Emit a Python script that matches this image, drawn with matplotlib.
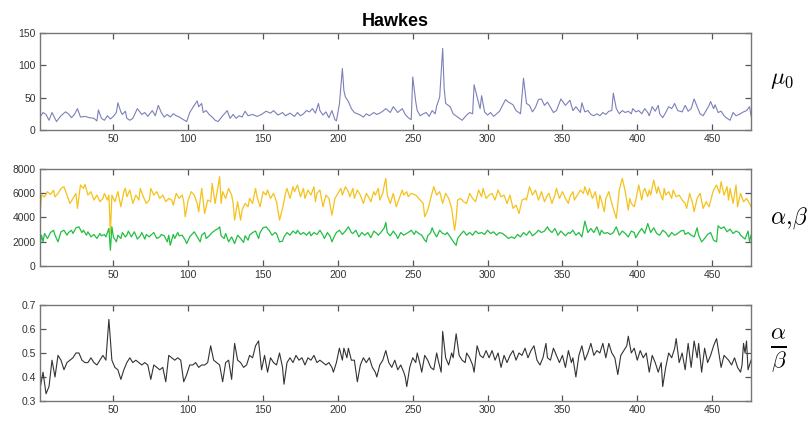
import numpy as np
import matplotlib
matplotlib.use("Agg")
import matplotlib.pyplot as plt

# mu_0 estimates (x position, value)
mu_x = [1, 3, 5, 7, 9, 12, 15, 18, 20, 22, 24, 26, 28, 31, 34, 37, 39, 40, 42, 44, 46, 48, 50, 52, 53, 55, 56, 58, 59,
        61, 63, 66, 69, 71, 73, 75, 76, 78, 80, 82, 84, 86, 88, 90, 92, 94, 96, 99, 101, 104, 106, 107, 109, 110, 112,
        114, 116, 118, 120, 121, 123, 125, 126, 128, 130, 132, 134, 136, 138, 140, 143, 146, 149, 152, 155, 157, 160,
        163, 165, 168, 171, 173, 175, 177, 179, 181, 183, 185, 187, 188, 190, 192, 194, 196, 198, 199, 201, 203, 204,
        205, 207, 209, 211, 213, 215, 217, 219, 221, 224, 226, 228, 230, 232, 235, 237, 240, 243, 245, 247, 249, 250,
        252, 253, 255, 257, 259, 261, 263, 265, 266, 268, 270, 271, 272, 275, 277, 280, 283, 286, 288, 290, 291, 293,
        295, 296, 298, 300, 302, 304, 306, 308, 310, 312, 314, 317, 319, 322, 324, 326, 328, 330, 332, 334, 336, 338,
        340, 342, 344, 346, 348, 349, 352, 355, 357, 359, 362, 363, 365, 367, 369, 371, 373, 375, 377, 379, 381, 383,
        384, 386, 388, 390, 392, 394, 396, 397, 399, 401, 403, 405, 407, 408, 410, 412, 414, 415, 417, 419, 421, 423,
        425, 427, 430, 432, 434, 436, 438, 440, 442, 444, 446, 448, 449, 451, 452, 454, 456, 458, 460, 462, 464, 466,
        468, 471, 473, 475, 476]
mu_y = [20, 27, 24, 15, 27, 13, 22, 28, 25, 19, 24, 33, 20, 21, 19, 18, 14, 31, 18, 15, 22, 17, 21, 27, 42, 28, 24, 29, 18,
        15, 18, 33, 24, 27, 21, 27, 30, 22, 38, 27, 20, 24, 20, 25, 22, 20, 17, 13, 27, 38, 45, 36, 41, 27, 30,
        24, 20, 15, 13, 16, 22, 27, 30, 18, 24, 18, 22, 20, 29, 22, 24, 21, 24, 29, 26, 30, 23,
        27, 22, 26, 21, 27, 22, 25, 30, 28, 33, 26, 41, 30, 23, 28, 19, 30, 16, 14, 40, 95, 61,
        51, 44, 33, 27, 25, 23, 20, 25, 22, 27, 24, 26, 29, 33, 27, 36, 27, 33, 24, 19, 16, 82,
        44, 30, 22, 25, 27, 21, 30, 25, 37, 51, 126, 64, 41, 36, 25, 20, 15, 23, 27, 25, 70, 51,
        33, 53, 28, 23, 27, 21, 25, 29, 38, 47, 43, 39, 30, 25, 80, 41, 38, 28, 35, 47, 48, 38,
        43, 35, 27, 30, 42, 48, 38, 46, 30, 36, 27, 42, 28, 30, 24, 22, 25, 22, 27, 24, 29, 30,
        57, 33, 25, 30, 27, 29, 25, 33, 28, 30, 25, 33, 27, 22, 36, 29, 38, 25, 19, 27, 36, 33,
        41, 30, 28, 38, 29, 33, 48, 36, 25, 22, 30, 38, 44, 33, 39, 27, 29, 22, 18, 15, 27, 22,
        24, 28, 30, 36, 22]

# alpha (yellow)
al_x = [1, 2, 4, 6, 8, 10, 11, 13, 15, 17, 19, 21, 23, 25, 26, 28, 30, 31, 33, 35, 37, 39, 41, 43, 44, 46, 47, 48, 49,
        51, 53, 55, 57, 58, 59, 61, 63, 65, 67, 68, 70, 72, 74, 75, 77, 79, 81, 83, 85, 87, 89, 90, 92, 94, 96, 97, 98,
        100, 102, 104, 106, 107, 109, 111, 113, 115, 116, 118, 121, 122, 123, 125, 127, 129, 130, 131, 133, 135, 136,
        138, 140, 141, 143, 145, 146, 148, 150, 152, 153, 155, 157, 159, 161, 163, 165, 166, 168, 170, 171, 173, 175,
        177, 178, 180, 182, 184, 185, 186, 188, 190, 192, 194, 196, 198, 200, 202, 203, 205, 207, 208, 210, 211, 213,
        215, 217, 219, 221, 222, 224, 225, 227, 228, 230, 231, 232, 233, 235, 237, 238, 239, 241, 243, 244, 246, 247,
        249, 252, 254, 257, 258, 260, 262, 264, 266, 268, 270, 271, 272, 274, 276, 278, 279, 280, 282, 284, 286, 288,
        290, 292, 294, 296, 297, 299, 301, 303, 305, 307, 309, 311, 313, 315, 317, 319, 321, 323, 325, 326, 328, 330,
        332, 334, 336, 338, 340, 341, 343, 345, 346, 348, 350, 352, 354, 355, 357, 358, 360, 362, 364, 365, 367, 368,
        370, 372, 374, 375, 376, 378, 379, 381, 383, 385, 386, 388, 390, 392, 394, 395, 396, 398, 399, 401, 403, 404,
        405, 407, 408, 409, 411, 413, 414, 415, 417, 418, 419, 421, 423, 424, 426, 428, 430, 432, 433, 435, 437, 438,
        440, 442, 444, 446, 448, 450, 451, 453, 455, 456, 458, 460, 461, 462, 464, 466, 467, 469, 471, 473, 475, 476]
al_y = [4300, 5850, 5700, 6130, 5900, 6250, 5700, 5990, 6400, 6540, 5850, 5160, 5575, 5990, 4750, 6680, 6400, 6730, 5850,
        6130, 5440, 5850, 5300, 5575, 5990, 5440, 5850, 2700, 5850,
        5300, 6130, 4890, 6130, 6400, 5710, 6265, 5160, 5850, 5440, 6400, 5710, 5160, 5440, 6400, 5850, 6130, 5575, 5850,
        5300, 5575, 5440, 5020, 5990, 5575, 5850, 5300, 4060,
        5440, 6130, 5850, 5160, 4470, 6400, 4330, 5440, 5300, 6820, 5160, 7370, 5160, 6130, 5575, 6400, 5850, 5160, 3780,
        5300, 3780, 4610,
        5160, 4885, 5575, 5160, 6400, 5710, 4885, 6130, 5850, 6265, 5575, 5990, 5300, 3780, 4750, 5990, 6400, 5575, 6540,
        6130, 6680, 5710,
        6400, 5575, 6265, 5850, 6540, 5300, 5990, 6265, 4885, 5850, 5575, 4195, 5575, 5990, 6400, 5850, 6540, 6130, 5710,
        6400, 5575, 6265,
        5850, 5160, 5990, 5575, 5300, 6130, 5850, 6400, 5440, 5990, 6680, 7230, 5850, 5160, 5990, 5440, 4885, 5575, 6265,
        5850, 6130, 5710,
        5990, 5850, 5575, 5160, 4060, 4610, 5575, 6540, 5850, 6130, 5160, 5575, 5990, 5575, 4750, 2950, 3920, 5440, 5575,
        5300, 5160, 5990,
        5575, 5300, 6265, 5710, 6400, 5575, 5850, 5990, 5440, 6265, 5710, 5850, 5160, 5850, 4750, 5020, 4330, 5440, 5575,
        5440, 6540, 5850,
        6265, 5440, 6130, 5300, 5850, 6000, 5160, 5850, 6400, 5575, 6130, 5575, 5160, 5710, 6130, 5440, 5850, 6265, 5990,
        6540, 5850, 6400,
        5575, 6130, 4750, 5850, 5440, 4470, 5575, 6130, 5160, 4330, 3920, 6265, 7230, 6130, 4610, 5575, 5160, 4885, 5440,
        6680, 5440, 6130,
        6400, 5710, 6265, 5850, 7090, 5990, 6540, 6130, 5440, 6400, 5850, 6130, 5575, 6265, 5710, 5850, 5440, 5160, 4750,
        5990, 5160, 4470,
        5575, 5990, 4750, 5300, 4885, 5850, 6265, 6680, 5990, 6955, 5850, 6540, 5440, 6400, 5160, 6680, 4885, 5990, 5300,
        5575, 5160, 4885]

# beta (green)
be_x = [1, 2, 3, 4, 6, 8, 10, 11, 13, 15, 17, 19, 20, 22, 23, 25, 27, 29, 30, 32, 33, 35, 37, 39, 41, 42, 44, 45, 46,
        47, 48, 49, 50, 52, 53, 55, 56, 58, 59, 60, 62, 64, 65, 66, 68, 69, 71, 72, 74, 75, 77, 79, 81, 82, 84, 86, 87,
        88, 90, 91, 93, 94, 96, 98, 99, 101, 103, 104, 106, 108, 109, 111, 112, 114, 116, 118, 120, 121, 122, 124, 125,
        127, 129, 131, 133, 135, 137, 138, 140, 141, 143, 145, 147, 148, 150, 152, 154, 156, 158, 159, 161, 163, 164,
        166, 168, 170, 172, 173, 175, 177, 179, 181, 182, 184, 186, 188, 190, 191, 193, 195, 196, 198, 199, 201, 203,
        205, 207, 209, 210, 212, 214, 216, 218, 220, 222, 224, 226, 227, 229, 231, 232, 233, 235, 237, 239, 240, 242,
        244, 246, 247, 249, 251, 252, 254, 256, 258, 259, 260, 262, 263, 264, 266, 268, 270, 272, 273, 275, 278, 279,
        280, 282, 284, 286, 288, 290, 292, 294, 296, 298, 300, 302, 304, 306, 308, 310, 312, 314, 316, 318, 320, 322,
        324, 326, 328, 330, 332, 334, 336, 338, 340, 341, 343, 345, 347, 349, 352, 354, 355, 357, 359, 361, 363, 365,
        367, 369, 371, 373, 375, 376, 378, 380, 382, 384, 386, 388, 390, 392, 394, 396, 398, 399, 401, 403, 405, 407,
        409, 411, 413, 415, 417, 419, 421, 423, 425, 427, 429, 431, 432, 434, 436, 438, 440, 441, 443, 445, 447, 449,
        451, 453, 454, 456, 458, 460, 462, 464, 466, 468, 469, 471, 472, 474, 475, 476]
be_y = [1710, 2540, 1990, 2680, 2270, 2760, 2950, 2540, 1990, 2820, 2950, 2540, 2760, 2950, 2680, 3150, 3230, 2760, 2950,
        2540, 2820, 2400, 2600, 2270, 2680, 2490, 2600, 2400, 2760,
        3090, 1300, 3230, 2400, 1990, 2540, 2270, 2760, 2400, 2540, 2880, 2400, 2820, 2540, 2220, 2490, 2760, 2220, 2600,
        2400, 2540, 2760, 2270, 2400, 2600, 2490, 1990, 2540,
        1710, 2600, 2270, 2760, 2490, 2540, 2130, 1850, 2400, 2680, 2820, 2400, 1990, 2540, 2760, 2270, 2490, 2760, 2950,
        3090, 3230, 2490, 2270, 2680,
        1990, 2400, 1850, 2540, 2270, 1940, 2490, 2130, 2540, 2760, 2880, 2270, 2760, 3150, 3230, 2950, 2540, 2760, 2680,
        1990, 2050, 2400,
        2760, 2540, 2880, 2680, 2950, 2600, 2760, 2540, 2820, 2490, 2760, 2600, 2950, 2540, 2270, 2760, 2400, 1990, 2540,
        2760, 2950, 2600,
        2880, 3230, 2760, 2680, 2950, 2400, 2760, 2540, 2760, 2330, 2880, 2680, 2540, 2820, 3150, 3590, 2760, 2490, 2880,
        2540, 2270, 2760,
        2540, 2680, 2760, 2950, 2600, 2880, 2680, 2540, 2130, 1990, 2490, 2760, 3150, 2820, 2400, 2950, 2680, 2600, 2760,
        2400, 1850, 1710,
        2270, 2600, 2880, 2540, 2760, 2540, 2880, 2680, 2760, 2600, 2950, 2680, 2820, 2540, 2760, 2680, 2490, 2270, 2400,
        2270, 2600, 2400,
        2760, 2540, 2880, 2490, 2680, 2950, 2760, 2880, 3230, 3000, 2760, 3090, 2540, 2880, 2490, 2760, 2680, 2950, 2540,
        2760, 2400, 3700,
        2760, 3090, 2760, 3230, 2540, 2950, 2680, 2760, 2600, 2760, 3230, 2540, 2880, 2680, 2400, 2880, 2760, 2330, 2760,
        3090, 2680, 3500,
        2760, 3150, 2680, 2540, 2950, 2760, 2400, 2760, 2540, 2680, 2880, 2950, 2600, 2760, 2540, 2400, 3150, 2540, 1990,
        2270, 2600, 2760,
        2130, 1990, 3310, 3090, 3230, 2820, 3040, 2680, 2880, 2760, 2540, 2330, 2220, 2880, 1990, 2540]

# alpha / beta ratio
ab_x = list(range(1, 160, 2)) + [
    161, 163, 164, 166, 168, 170, 172, 174, 176, 178, 180, 182, 184, 186, 188, 190, 192, 194, 196, 197, 199, 201, 203,
    204, 206, 207, 209, 211, 213, 215, 217, 219, 221, 223, 225, 226, 228, 230, 232, 234, 236, 238, 240, 242, 244, 245,
    246, 248, 250, 252, 253, 255, 256, 258, 260, 262, 264, 266, 267, 269, 270, 272, 274, 276, 277, 279, 281, 283, 285,
    286, 288, 290, 291, 293, 295, 297, 299, 301, 303, 305, 307, 309, 311, 313, 315, 317, 319, 321, 323, 325, 327, 329,
    331, 333, 335, 337, 339, 340, 342, 344, 346, 348, 350, 352, 354, 356, 357, 359, 361, 363, 365, 367, 369, 371, 373,
    375, 377, 379, 381, 383, 385, 387, 389, 391, 393, 394, 396, 398, 400, 402, 404, 406, 408, 410, 412, 414, 416, 417,
    419, 421, 423, 425, 426, 428, 430, 432, 434, 436, 438, 440, 441, 443, 445, 447, 449, 451, 453, 455, 456, 458, 461,
    463, 465, 467, 469, 470, 471, 472, 473, 474, 476]
ab_y = [0.35, 0.42, 0.33, 0.36, 0.47, 0.40, 0.49, 0.47, 0.43, 0.46, 0.47, 0.48, 0.50, 0.50, 0.47, 0.46, 0.46, 0.48,
        0.46, 0.45, 0.47, 0.49, 0.47, 0.64, 0.47, 0.44, 0.43, 0.39, 0.43, 0.46, 0.48, 0.46, 0.47, 0.46, 0.45, 0.46,
        0.45, 0.39, 0.45, 0.44, 0.43, 0.44, 0.38, 0.49, 0.48, 0.47, 0.48, 0.47, 0.38, 0.41, 0.45, 0.45, 0.46, 0.44,
        0.45, 0.45, 0.46, 0.53, 0.47, 0.46, 0.45, 0.38, 0.46, 0.47, 0.39, 0.54, 0.47, 0.46, 0.44, 0.45, 0.49, 0.48,
        0.53, 0.55, 0.43, 0.49, 0.42, 0.48, 0.46, 0.45,
        0.50, 0.44, 0.37, 0.46, 0.48, 0.46, 0.49, 0.47, 0.48, 0.45, 0.48, 0.47, 0.49, 0.46, 0.47, 0.46, 0.45, 0.46,
        0.44, 0.42, 0.46, 0.52, 0.47, 0.52, 0.48, 0.52, 0.47, 0.47, 0.38, 0.45, 0.48, 0.46, 0.48, 0.44, 0.42, 0.40,
        0.45, 0.47, 0.51, 0.46, 0.44, 0.47, 0.43, 0.45, 0.42, 0.40, 0.36, 0.44, 0.48, 0.46, 0.50, 0.45, 0.42, 0.49,
        0.47, 0.44, 0.43, 0.50, 0.47, 0.42, 0.59, 0.48, 0.45, 0.50, 0.48, 0.58, 0.49, 0.47, 0.46, 0.50, 0.48, 0.45,
        0.42, 0.53, 0.49, 0.48, 0.51, 0.48, 0.51, 0.47, 0.50, 0.44, 0.49, 0.46, 0.49, 0.51, 0.47, 0.50, 0.49, 0.52,
        0.48, 0.51, 0.53, 0.47, 0.45, 0.48, 0.54, 0.48, 0.47, 0.52, 0.49, 0.46, 0.49, 0.44, 0.51, 0.46, 0.48, 0.40,
        0.49, 0.53, 0.47, 0.50, 0.54, 0.49, 0.51, 0.50, 0.54, 0.48, 0.54, 0.50, 0.48, 0.41, 0.49, 0.51, 0.53, 0.57,
        0.50, 0.52, 0.47, 0.51, 0.48, 0.50, 0.42, 0.49, 0.46, 0.42, 0.46, 0.36, 0.44, 0.50, 0.48, 0.52, 0.56, 0.46,
        0.50, 0.43, 0.54, 0.44, 0.55, 0.48, 0.54, 0.42, 0.52, 0.46, 0.49, 0.53, 0.56, 0.48, 0.44, 0.49, 0.47, 0.45,
        0.48, 0.44, 0.42, 0.45, 0.54, 0.50, 0.55, 0.43, 0.47]

x_ticks = [50, 100, 150, 200, 250, 300, 350, 400, 450]

plt.rcParams['font.family'] = ['Liberation Sans', 'DejaVu Sans']
plt.rcParams['mathtext.fontset'] = 'cm'

fig = plt.figure(figsize=(8.12, 4.22), dpi=100)
W = 0.8756
ax1 = fig.add_axes([0.0493, 0.692, W, 0.2299])
ax2 = fig.add_axes([0.0493, 0.3697, W, 0.2298])
ax3 = fig.add_axes([0.0493, 0.0498, W, 0.2275])


def style(ax, yt, ylim):
    ax.set_xlim(1, 476)
    ax.set_ylim(*ylim)
    ax.set_xticks(x_ticks)
    ax.set_yticks(yt)
    ax.tick_params(direction='in', top=True, right=True, length=4, width=0.9,
                   labelsize=7.5, colors='#555555', labelcolor='#333333', pad=3)
    for s in ax.spines.values():
        s.set_color('#777777')
        s.set_linewidth(1.0)


ax1.plot(mu_x, mu_y, color='#7c80b8', lw=0.8)
style(ax1, [0, 50, 100, 150], (0, 150))
ax1.set_title('Hawkes', fontsize=13, fontweight='bold', pad=5)
fig.text(0.948, 0.81, r'$\mu_0$', fontsize=17, va='center')

ax2.plot(al_x, al_y, color='#f5c21b', lw=0.9)
ax2.plot(be_x, be_y, color='#22bf44', lw=0.9)
style(ax2, [0, 2000, 4000, 6000, 8000], (0, 8000))
fig.text(0.948, 0.483, r'$\alpha,\!\beta$', fontsize=17, va='center')

ax3.plot(ab_x, ab_y, color='#333333', lw=0.8)
style(ax3, [0.3, 0.4, 0.5, 0.6, 0.7], (0.3, 0.7))
ax3.set_yticklabels(['0.3', '0.4', '0.5', '0.6', '0.7'])
fig.text(0.948, 0.168, r'$\frac{\alpha}{\beta}$', fontsize=24, va='center')

fig.savefig('out.png', dpi=100)
